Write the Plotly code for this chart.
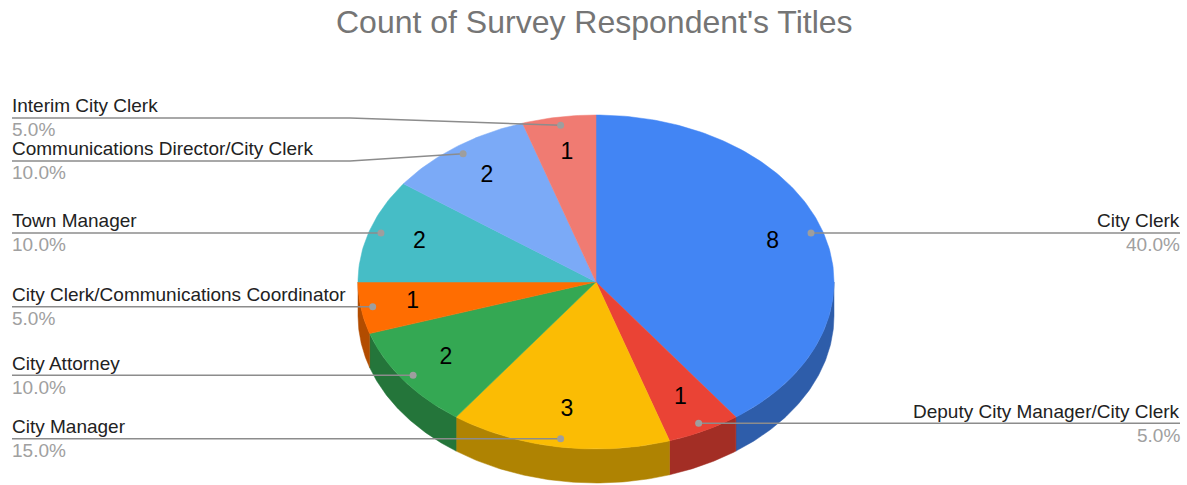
import numpy as np
import plotly.graph_objects as go

# ---------------- data ----------------
chart_title = "Count of Survey Respondent's Titles"
titles = [
    "City Clerk",
    "Deputy City Manager/City Clerk",
    "City Manager",
    "City Attorney",
    "City Clerk/Communications Coordinator",
    "Town Manager",
    "Communications Director/City Clerk",
    "Interim City Clerk",
]
counts = [8, 1, 3, 2, 1, 2, 2, 1]
colors = ["#4285F4", "#EA4335", "#FBBC04", "#34A853",
          "#FF6D01", "#46BDC6", "#7BAAF7", "#F07B72"]

# ---------------- layout constants ----------------
W, H = 1187, 485
CX, CY, RX, RY, DEPTH = 596, 282, 238, 167, 34
FONT = "Liberation Sans, Arial, sans-serif"
NAME_SIZE, PCT_SIZE, VAL_SIZE, TITLE_SIZE = 19, 19, 23, 32
LEFT_X, RIGHT_X = 12, 1180
TEXT_PAD = 2
LEFT_KINK, RIGHT_KINK = 350, 900
MIN_GAP = 43
DOT_R, VAL_R = 0.95, 0.78


def darken(hexc, f=0.7):
    h = hexc.lstrip("#")
    r, g, b = (int(h[i:i + 2], 16) for i in (0, 2, 4))
    return "#%02X%02X%02X" % (int(r * f), int(g * f), int(b * f))


def pt(theta, r=1.0, dy=0.0):
    return CX + RX * r * np.sin(theta), CY - RY * r * np.cos(theta) + dy


total = float(sum(counts))
fracs = np.array(counts) / total
ends = np.cumsum(fracs) * 2 * np.pi
starts = ends - fracs * 2 * np.pi
mids = (starts + ends) / 2

fig = go.Figure()

# sides (front half only)
for a1, a2, c in zip(starts, ends, colors):
    s, e = max(a1, np.pi / 2), min(a2, 3 * np.pi / 2)
    if s >= e:
        continue
    t = np.linspace(s, e, 80)
    xt, yt = pt(t)
    xb, yb = pt(t[::-1], dy=DEPTH)
    xs = np.concatenate([xt, xb, xt[:1]])
    ys = np.concatenate([yt, yb, yt[:1]])
    fig.add_trace(go.Scatter(x=xs, y=ys, fill="toself", mode="lines",
                             fillcolor=darken(c), line=dict(color=darken(c), width=0.5),
                             hoverinfo="skip"))

# top faces
for a1, a2, c, name, n in zip(starts, ends, colors, titles, counts):
    t = np.linspace(a1, a2, max(int((a2 - a1) * 60), 8))
    xa, ya = pt(t)
    xs = np.concatenate([[CX], xa, [CX]])
    ys = np.concatenate([[CY], ya, [CY]])
    fig.add_trace(go.Scatter(x=xs, y=ys, fill="toself", mode="lines",
                             fillcolor=c, line=dict(color=c, width=0.5),
                             name=name, text=f"{name}: {n}", hoverinfo="text"))

# value labels
vx, vy = pt(mids, VAL_R)
fig.add_trace(go.Scatter(x=vx, y=vy, mode="text", text=[str(n) for n in counts],
                         textfont=dict(family=FONT, size=VAL_SIZE, color="#000000"),
                         hoverinfo="skip"))

# label placement with simple de-overlap
dx, dy = pt(mids, DOT_R)
sides = np.where(dx < CX, "L", "R")
label_y = dy.copy()
for side in ("L", "R"):
    idx = [i for i in range(len(counts)) if sides[i] == side]
    idx.sort(key=lambda i: dy[i])
    ys = [dy[i] for i in idx]
    for _ in range(200):
        moved = False
        for k in range(len(ys) - 1):
            gap = ys[k + 1] - ys[k]
            if gap < MIN_GAP - 1e-6:
                d = (MIN_GAP - gap) / 2
                ys[k] -= d
                ys[k + 1] += d
                moved = True
        if not moved:
            break
    for i, y in zip(idx, ys):
        label_y[i] = y

annotations = []
for i, (name, n) in enumerate(zip(titles, counts)):
    ly = label_y[i]
    pct = f"{100 * n / total:.1f}%"
    if sides[i] == "L":
        lx, kx, anchor, tx = LEFT_X, LEFT_KINK, "left", LEFT_X - TEXT_PAD
    else:
        lx, kx, anchor, tx = RIGHT_X, RIGHT_KINK, "right", RIGHT_X + TEXT_PAD
    fig.add_trace(go.Scatter(x=[lx, kx, dx[i]], y=[ly, ly, dy[i]], mode="lines",
                             line=dict(color="#8C8C8C", width=1.5), hoverinfo="skip"))
    annotations.append(dict(x=tx, y=ly - 12, text=name, showarrow=False, xanchor=anchor,
                            yanchor="middle", xref="x", yref="y",
                            font=dict(family=FONT, size=NAME_SIZE, color="#222222")))
    annotations.append(dict(x=tx, y=ly + 12, text=pct, showarrow=False, xanchor=anchor,
                            yanchor="middle", xref="x", yref="y",
                            font=dict(family=FONT, size=PCT_SIZE, color="#A0A0A0")))

fig.add_trace(go.Scatter(x=dx, y=dy, mode="markers",
                         marker=dict(color="#9E9E9E", size=7), hoverinfo="skip"))

annotations.append(dict(x=594, y=22, text=chart_title, showarrow=False, xanchor="center",
                        yanchor="middle", xref="x", yref="y",
                        font=dict(family=FONT, size=TITLE_SIZE, color="#757575")))

fig.update_layout(
    width=W, height=H, margin=dict(l=0, r=0, t=0, b=0),
    paper_bgcolor="white", plot_bgcolor="white", showlegend=False,
    xaxis=dict(range=[0, W], visible=False, fixedrange=True),
    yaxis=dict(range=[H, 0], visible=False, fixedrange=True),
    annotations=annotations,
)

fig.write_html("out.html", config={"displayModeBar": False},
               post_script="document.body.style.margin='0';document.body.style.overflow='hidden';")
